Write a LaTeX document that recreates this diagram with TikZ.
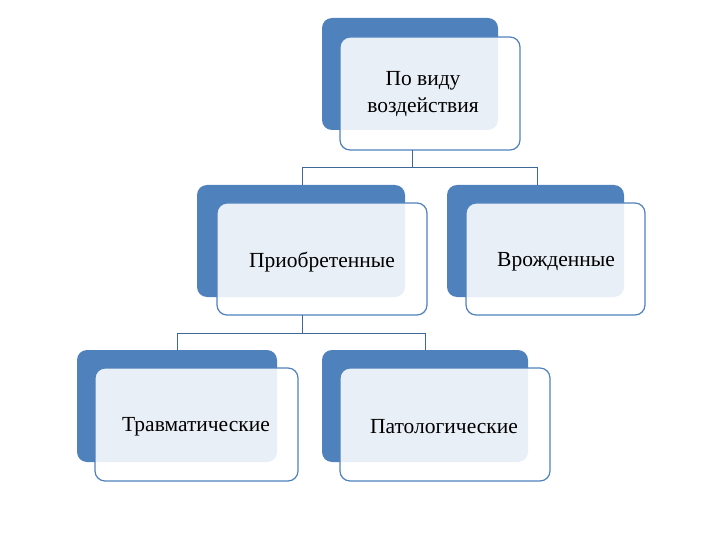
\documentclass[tikz,border=0pt]{standalone}
\usepackage{fontspec}
\setmainfont{Liberation Serif}
\definecolor{bl}{HTML}{4F81BD}
\begin{document}
\begin{tikzpicture}[x=1pt,y=-1pt,
  back/.style={fill=bl,draw=none,rounded corners=10pt},
  front/.style={fill=white,fill opacity=0.88,draw=bl,line width=1.2pt,rounded corners=10pt},
  lbl/.style={font=\fontsize{21.5}{27}\selectfont,align=center,text=black},
  conn/.style={draw=bl!80!black,line width=1pt}]
\useasboundingbox (0,0) rectangle (720,540);
% top
\fill[back] (322,18) rectangle (498,130);
\draw[front] (340,37) rectangle (520,150);
\node[lbl] (t) at (423,94) {По виду\\воздействия};
% middle
\fill[back] (197,185) rectangle (405,297);
\draw[front] (217,203) rectangle (427,315);
\node[lbl] (a) at (322,262) {Приобретенные};
\fill[back] (447,185) rectangle (624,297);
\draw[front] (466,203) rectangle (645,315);
\node[lbl] (b) at (556,262) {Врожденные};
% bottom
\fill[back] (77,350) rectangle (277,462);
\draw[front] (95,368) rectangle (298,481);
\node[lbl] (c) at (196,427) {Травматические};
\fill[back] (322,350) rectangle (528,462);
\draw[front] (340,368) rectangle (550,481);
\node[lbl] (d) at (444,427) {Патологические};
% connectors
\coordinate (t0) at (412,150);
\coordinate (a0) at (302,185);
\coordinate (b0) at (537,185);
\draw[conn] (t0) -- (412,168) -| (a0);
\draw[conn] (412,168) -| (b0);
\coordinate (a1) at (302,315);
\coordinate (c0) at (177,350);
\coordinate (d0) at (425,350);
\draw[conn] (a1) -- (302,333) -| (c0);
\draw[conn] (302,333) -| (d0);
\end{tikzpicture}
\end{document}
